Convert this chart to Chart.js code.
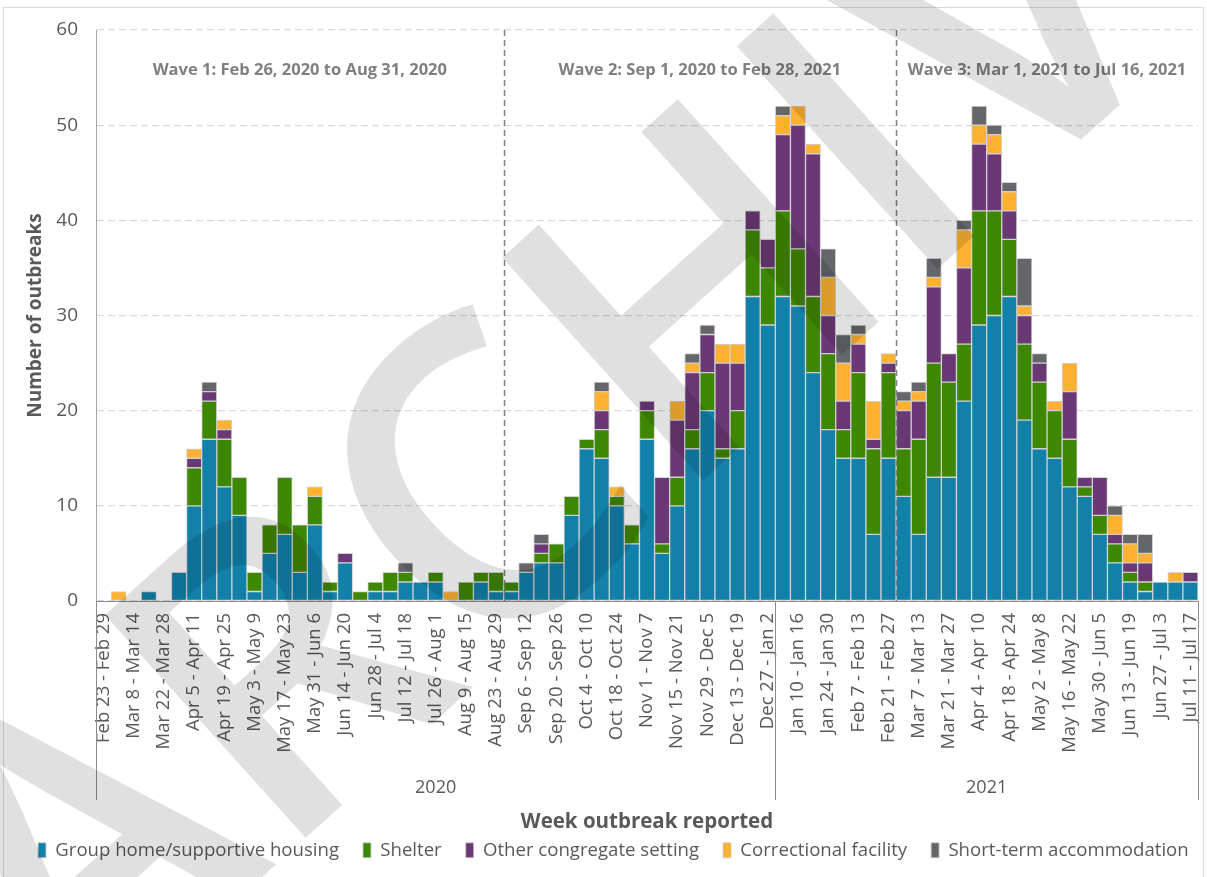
<!DOCTYPE html>
<html>
<head>
<meta charset="utf-8">
<script src="https://cdn.jsdelivr.net/npm/chart.js@4.4.1/dist/chart.umd.min.js"></script>
<style>
  html, body { margin: 0; padding: 0; background: #fff; }
  #wrap { width: 1207px; height: 877px; position: relative; }
</style>
</head>
<body>
<div id="wrap"><canvas id="outbreakChart"></canvas></div>
<script>
// Weekly categories (Sunday - Saturday)
const weeks = [
    'Feb 23 - Feb 29', 'Mar 1 - Mar 7', 'Mar 8 - Mar 14', 'Mar 15 - Mar 21', 'Mar 22 - Mar 28',
    'Mar 29 - Apr 4', 'Apr 5 - Apr 11', 'Apr 12 - Apr 18', 'Apr 19 - Apr 25', 'Apr 26 - May 2',
    'May 3 - May 9', 'May 10 - May 16', 'May 17 - May 23', 'May 24 - May 30', 'May 31 - Jun 6',
    'Jun 7 - Jun 13', 'Jun 14 - Jun 20', 'Jun 21 - Jun 27', 'Jun 28 - Jul 4', 'Jul 5 - Jul 11',
    'Jul 12 - Jul 18', 'Jul 19 - Jul 25', 'Jul 26 - Aug 1', 'Aug 2 - Aug 8', 'Aug 9 - Aug 15',
    'Aug 16 - Aug 22', 'Aug 23 - Aug 29', 'Aug 30 - Sep 5', 'Sep 6 - Sep 12', 'Sep 13 - Sep 19',
    'Sep 20 - Sep 26', 'Sep 27 - Oct 3', 'Oct 4 - Oct 10', 'Oct 11 - Oct 17', 'Oct 18 - Oct 24',
    'Oct 25 - Oct 31', 'Nov 1 - Nov 7', 'Nov 8 - Nov 14', 'Nov 15 - Nov 21', 'Nov 22 - Nov 28',
    'Nov 29 - Dec 5', 'Dec 6 - Dec 12', 'Dec 13 - Dec 19', 'Dec 20 - Dec 26', 'Dec 27 - Jan 2',
    'Jan 3 - Jan 9', 'Jan 10 - Jan 16', 'Jan 17 - Jan 23', 'Jan 24 - Jan 30', 'Jan 31 - Feb 6',
    'Feb 7 - Feb 13', 'Feb 14 - Feb 20', 'Feb 21 - Feb 27', 'Feb 28 - Mar 6', 'Mar 7 - Mar 13',
    'Mar 14 - Mar 20', 'Mar 21 - Mar 27', 'Mar 28 - Apr 3', 'Apr 4 - Apr 10', 'Apr 11 - Apr 17',
    'Apr 18 - Apr 24', 'Apr 25 - May 1', 'May 2 - May 8', 'May 9 - May 15', 'May 16 - May 22',
    'May 23 - May 29', 'May 30 - Jun 5', 'Jun 6 - Jun 12', 'Jun 13 - Jun 19', 'Jun 20 - Jun 26',
    'Jun 27 - Jul 3', 'Jul 4 - Jul 10', 'Jul 11 - Jul 17'
];

// Outbreaks per week, by setting
const groupHome = [
    0, 0, 0, 1, 0, 3, 10, 17, 12, 9,
    1, 5, 7, 3, 8, 1, 4, 0, 1, 1,
    2, 2, 2, 0, 0, 2, 1, 1, 3, 4,
    4, 9, 16, 15, 10, 6, 17, 5, 10, 16,
    20, 15, 16, 32, 29, 32, 31, 24, 18, 15,
    15, 7, 15, 11, 7, 13, 13, 21, 29, 30,
    32, 19, 16, 15, 12, 11, 7, 4, 2, 1,
    2, 2, 2
];
const shelter = [
    0, 0, 0, 0, 0, 0, 4, 4, 5, 4,
    2, 3, 6, 5, 3, 1, 0, 1, 1, 2,
    1, 0, 1, 0, 2, 1, 2, 1, 0, 1,
    2, 2, 1, 3, 1, 2, 3, 1, 3, 2,
    4, 1, 4, 7, 6, 9, 6, 8, 8, 3,
    9, 9, 9, 5, 10, 12, 10, 6, 12, 11,
    6, 8, 7, 5, 5, 1, 2, 2, 1, 1,
    0, 0, 0
];
const otherCongregate = [
    0, 0, 0, 0, 0, 0, 1, 1, 1, 0,
    0, 0, 0, 0, 0, 0, 1, 0, 0, 0,
    0, 0, 0, 0, 0, 0, 0, 0, 0, 1,
    0, 0, 0, 2, 0, 0, 1, 7, 6, 6,
    4, 9, 5, 2, 3, 8, 13, 15, 4, 3,
    3, 1, 1, 4, 4, 8, 3, 8, 7, 6,
    3, 3, 2, 0, 5, 1, 4, 1, 1, 2,
    0, 0, 1
];
const correctional = [
    0, 1, 0, 0, 0, 0, 1, 0, 1, 0,
    0, 0, 0, 0, 1, 0, 0, 0, 0, 0,
    0, 0, 0, 1, 0, 0, 0, 0, 0, 0,
    0, 0, 0, 2, 1, 0, 0, 0, 2, 1,
    0, 2, 2, 0, 0, 2, 2, 1, 4, 4,
    1, 4, 1, 1, 1, 1, 0, 4, 2, 2,
    2, 1, 0, 1, 3, 0, 0, 2, 2, 1,
    0, 1, 0
];
const shortTerm = [
    0, 0, 0, 0, 0, 0, 0, 1, 0, 0,
    0, 0, 0, 0, 0, 0, 0, 0, 0, 0,
    1, 0, 0, 0, 0, 0, 0, 0, 1, 1,
    0, 0, 0, 1, 0, 0, 0, 0, 0, 1,
    1, 0, 0, 0, 0, 1, 0, 0, 3, 3,
    1, 0, 0, 1, 1, 2, 0, 1, 2, 1,
    1, 5, 1, 0, 0, 0, 0, 1, 1, 2,
    0, 0, 0
];

const seriesNames = ['Group home/supportive housing', 'Shelter', 'Other congregate setting',
    'Correctional facility', 'Short-term accommodation'];
const seriesColors = ['#1281aa', '#3e8702', '#6b3876', '#fcb131', '#656669'];

// Wave annotations (first/last week index of each wave)
const waveLabels = ['Wave 1: Feb 26, 2020 to Aug 31, 2020', 'Wave 2: Sep 1, 2020 to Feb 28, 2021',
    'Wave 3: Mar 1, 2021 to Jul 16, 2021'];
const waveFirstWeek = [0, 27, 53];
const waveLastWeek = [26, 52, 72];
const waveLabelValue = 55.8;

// Year groups under the week labels
const yearLabels = ['2020', '2021'];
const yearFirstWeek = [0, 45];
const yearLastWeek = [44, 72];

const textColor = '#595959';
const fontFamily = '"Open Sans", sans-serif';
const legendPadding = 24;
const legendStartX = 38;

// Left/right edge of a week's slot on the x scale
function weekEdge(xScale, index, side) {
    const step = xScale.getPixelForValue(1) - xScale.getPixelForValue(0);
    return xScale.getPixelForValue(index) + side * step / 2;
}

// Light frame around the whole picture
const framePlugin = {
    id: 'frame',
    beforeDraw(chart) {
        const { ctx, width, height } = chart;
        ctx.save();
        ctx.strokeStyle = '#d9d9d9';
        ctx.lineWidth = 1;
        ctx.strokeRect(3.5, 7.5, width - 7, height);
        ctx.restore();
    }
};

// Wave labels and dashed dividers inside the plot
const wavePlugin = {
    id: 'waves',
    afterDatasetsDraw(chart) {
        const { ctx, chartArea, scales: { x, y } } = chart;
        ctx.save();
        ctx.strokeStyle = '#7f7f7f';
        ctx.lineWidth = 1.5;
        ctx.setLineDash([6, 4]);
        for (let w = 1; w < waveFirstWeek.length; w++) {
            const px = Math.round(weekEdge(x, waveFirstWeek[w], -1)) + 0.5;
            ctx.beginPath();
            ctx.moveTo(px, chartArea.top);
            ctx.lineTo(px, chartArea.bottom);
            ctx.stroke();
        }
        ctx.setLineDash([]);
        ctx.fillStyle = '#7f7f7f';
        ctx.font = 'bold 16.5px ' + fontFamily;
        ctx.textAlign = 'center';
        ctx.textBaseline = 'middle';
        waveLabels.forEach((label, w) => {
            const cx = (weekEdge(x, waveFirstWeek[w], -1) + weekEdge(x, waveLastWeek[w], 1)) / 2;
            ctx.fillText(label, cx, y.getPixelForValue(waveLabelValue));
        });
        ctx.restore();
    }
};

// Year group labels and separators below the week labels
const yearPlugin = {
    id: 'years',
    afterDraw(chart) {
        const { ctx, chartArea, scales: { x } } = chart;
        const lineBottom = 800;
        ctx.save();
        ctx.strokeStyle = '#8c8c8c';
        ctx.lineWidth = 1;
        const edges = [weekEdge(x, yearFirstWeek[0], -1)];
        yearLastWeek.forEach(i => edges.push(weekEdge(x, i, 1)));
        edges.forEach(px => {
            const sx = Math.round(px) + 0.5;
            ctx.beginPath();
            ctx.moveTo(sx, chartArea.bottom);
            ctx.lineTo(sx, lineBottom);
            ctx.stroke();
        });
        ctx.fillStyle = textColor;
        ctx.font = '18px ' + fontFamily;
        ctx.textAlign = 'center';
        ctx.textBaseline = 'middle';
        yearLabels.forEach((label, k) => {
            const cx = (weekEdge(x, yearFirstWeek[k], -1) + weekEdge(x, yearLastWeek[k], 1)) / 2;
            ctx.fillText(label, cx, 788);
        });
        ctx.restore();
    }
};

// Faint "ARCHIVED" watermark laid over the whole picture
const watermarkPlugin = {
    id: 'watermark',
    afterDraw(chart) {
        const ctx = chart.ctx;
        ctx.save();
        ctx.translate(70, 1050);
        ctx.rotate(-42 * Math.PI / 180);
        ctx.font = '600 420px ' + fontFamily;
        ctx.fillStyle = 'rgba(0, 0, 0, 0.12)';
        ctx.textAlign = 'left';
        ctx.textBaseline = 'alphabetic';
        ctx.fillText('ARCHIVED', 0, 0);
        ctx.restore();
    }
};

// Keep the legend on one row, with a fixed height and start position
const legendFitPlugin = {
    id: 'legendFit',
    beforeInit(chart) {
        const fit = chart.legend.fit;
        chart.legend.fit = function () {
            const maxWidth = this.maxWidth;
            this.maxWidth = maxWidth + 120;
            fit.bind(chart.legend)();
            this.maxWidth = maxWidth;
            this.width = maxWidth;
            this.height = 60;
        };
    },
    afterLayout(chart) {
        const legend = chart.legend;
        legend.right = chart.width + 60;
        legend.left = 2 * legendStartX - legendPadding - legend.right + legend.lineWidths[0];
    }
};

const seriesData = [groupHome, shelter, otherCongregate, correctional, shortTerm];

const ctx = document.getElementById('outbreakChart').getContext('2d');
const outbreakChart = new Chart(ctx, {
    type: 'bar',
    data: {
        labels: weeks,
        datasets: seriesData.map((values, k) => ({
            label: seriesNames[k],
            data: values.map(v => (v === 0 ? null : v)),
            backgroundColor: seriesColors[k],
            borderColor: 'rgba(205, 205, 205, 0.9)',
            borderWidth: 1,
            borderSkipped: false,
            barPercentage: 1,
            categoryPercentage: 1
        }))
    },
    options: {
        responsive: true,
        maintainAspectRatio: false,
        animation: false,
        layout: { padding: { top: 30, right: 9, left: 35, bottom: 0 } },
        scales: {
            x: {
                stacked: true,
                grid: { display: false },
                border: { display: true, color: '#8c8c8c', width: 1 },
                ticks: {
                    autoSkip: false,
                    maxRotation: 90,
                    minRotation: 90,
                    padding: 4,
                    color: textColor,
                    font: { family: fontFamily, size: 18.5 },
                    callback: (value, index) => (index % 2 === 0 ? weeks[index] : '')
                },
                title: {
                    display: true,
                    text: 'Week outbreak reported',
                    color: textColor,
                    font: { family: fontFamily, size: 20.5, weight: 'bold' },
                    padding: { top: 0, bottom: -17 }
                },
                afterFit: scale => {
                    scale.height = 216;
                    scale.paddingLeft = 0;
                    scale.paddingRight = 0;
                }
            },
            y: {
                stacked: true,
                min: 0,
                max: 60,
                ticks: {
                    stepSize: 10,
                    padding: 18,
                    color: textColor,
                    font: { family: fontFamily, size: 19 }
                },
                grid: { color: '#d9d9d9', lineWidth: 1.3, drawTicks: false },
                border: { display: true, color: '#a6a6a6', width: 1, dash: [7, 4] },
                title: {
                    display: true,
                    text: 'Number of outbreaks',
                    color: textColor,
                    font: { family: fontFamily, size: 19, weight: 'bold' },
                    padding: { top: -11, bottom: 0 }
                },
                afterFit: scale => { scale.width = 61; }
            }
        },
        plugins: {
            legend: {
                display: true,
                position: 'bottom',
                labels: {
                    boxWidth: 8,
                    boxHeight: 15,
                    padding: legendPadding,
                    color: textColor,
                    font: { family: fontFamily, size: 18.6 }
                }
            },
            tooltip: { enabled: false }
        }
    },
    plugins: [legendFitPlugin, framePlugin, wavePlugin, yearPlugin, watermarkPlugin]
});
</script>
</body>
</html>
